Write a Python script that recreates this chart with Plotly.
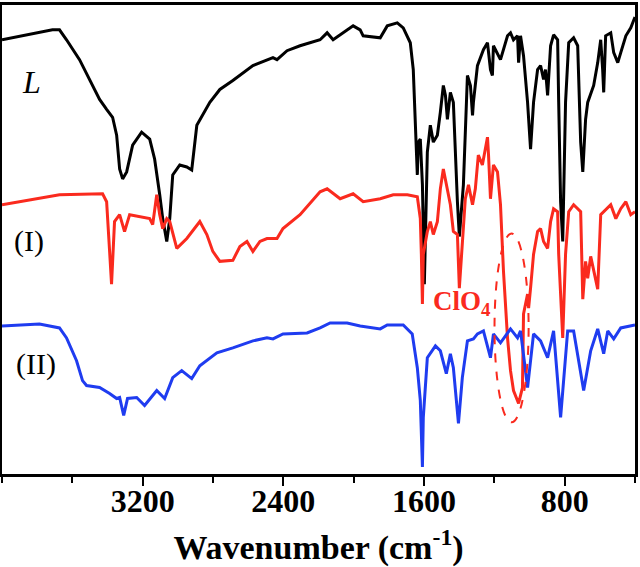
import plotly.graph_objects as go

# FT-IR spectra of the ligand L, complex (I) and complex (II)
# transmittance is in arbitrary units, curves are already offset

wn_L = [4000, 3713, 3673, 3633, 3559, 3502, 3445, 3405, 3371, 3348, 3331, 3314, 3291,
        3257, 3206, 3160, 3132, 3103, 3086, 3063, 3046, 3029, 2989, 2949, 2921, 2892,
        2858, 2818, 2761, 2687, 2573, 2459, 2436, 2379, 2305, 2191, 2151, 2117, 2003,
        1963, 1946, 1849, 1809, 1752, 1718, 1678, 1661, 1649, 1638, 1632, 1621, 1609,
        1598, 1581, 1564, 1547, 1524, 1507, 1490, 1478, 1467, 1450, 1433, 1410, 1399,
        1376, 1353, 1336, 1324, 1319, 1296, 1262, 1239, 1222, 1211, 1205, 1165, 1125,
        1108, 1091, 1068, 1062, 1051, 1034, 1011, 994, 977, 954, 937, 920, 909, 897,
        880, 863, 840, 834, 823, 811, 795, 777, 749, 726, 709, 697, 681, 669, 635, 612,
        595, 584, 578, 567, 538, 521, 498, 481, 452, 424, 400]
T_L = [437, 447, 447, 437, 417, 397, 377, 367, 359, 341, 307, 297, 304,
       331, 344, 337, 317, 281, 257, 234, 257, 301, 311, 309, 306, 351,
       361, 374, 387, 396, 411, 419, 417, 426, 431, 437, 444, 437, 451,
       447, 441, 439, 451, 454, 449, 434, 407, 341, 301, 334, 337, 291,
       191, 324, 351, 334, 341, 364, 391, 381, 357, 384, 374, 274, 239,
       291, 401, 391, 361, 374, 411, 427, 434, 407, 401, 431, 417, 441,
       444, 437, 441, 414, 441, 421, 374, 327, 374, 407, 411, 397, 407, 381,
       431, 442, 437, 374, 274, 234, 374, 434, 439, 431, 334, 304, 357, 374, 391, 414,
       437, 407, 384, 441, 444, 424, 414, 424, 441, 449, 460]

wn_I = [4000, 3673, 3428, 3405, 3388, 3377, 3360, 3331, 3303, 3274, 3160, 3143, 3120,
        3103, 3086, 3063, 3046, 3006, 2949, 2875, 2835, 2801, 2761, 2687, 2647, 2607,
        2573, 2533, 2493, 2436, 2402, 2305, 2191, 2151, 2077, 2003, 1946, 1849, 1775,
        1695, 1638, 1621, 1615, 1609, 1604, 1581, 1564, 1547, 1524, 1507, 1490, 1467,
        1450, 1433, 1410, 1399, 1382, 1365, 1347, 1324, 1308, 1291, 1268, 1251, 1239,
        1233, 1222, 1205, 1182, 1165, 1148, 1125, 1108, 1091, 1062, 1040, 1034, 1011,
        1005, 994, 977, 954, 937, 920, 897, 880, 863, 840, 834, 811, 795, 777, 749,
        709, 697, 681, 669, 652, 612, 595, 538, 509, 481, 452, 424, 400]
T_I = [271, 281, 282, 274, 224, 191, 254, 261, 244, 261, 257, 251, 281,
       261, 247, 257, 254, 227, 237, 254, 241, 224, 214, 215, 229, 234,
       224, 234, 237, 237, 247, 261, 284, 287, 277, 282, 274, 277, 281,
       281, 279, 257, 221, 171, 221, 244, 254, 241, 254, 287, 307, 287,
       271, 244, 241, 187, 237, 277, 291, 271, 287, 321, 311, 327, 339,
       321, 277, 311, 304, 271, 204, 137, 104, 84, 71, 87, 161, 181,
       167, 187, 221, 244, 247, 234, 227, 254, 267, 264, 221, 137, 221, 264, 271,
       264, 176, 214, 197, 219, 186, 261, 271, 257, 267, 274, 261, 264]

wn_II = [4000, 3787, 3673, 3633, 3576, 3542, 3519, 3445, 3388, 3348, 3331, 3308, 3286,
         3234, 3189, 3120, 3075, 3029, 2978, 2921, 2875, 2778, 2687, 2573, 2493, 2459,
         2402, 2265, 2191, 2134, 2037, 1963, 1849, 1809, 1718, 1667, 1638, 1621, 1609,
         1604, 1581, 1535, 1507, 1473, 1450, 1433, 1404, 1382, 1353, 1319, 1296, 1262,
         1222, 1205, 1165, 1108, 1068, 1051, 1011, 977, 937, 897, 863, 823, 783, 749,
         692, 652, 612, 578, 555, 521, 481, 407, 400]
T_II = [149, 151, 147, 137, 114, 94, 89, 87, 81, 76, 77, 59, 76,
        77, 69, 84, 76, 97, 104, 96, 109, 122, 127, 134, 137, 136,
        141, 142, 147, 152, 152, 149, 146, 150, 150, 141, 107, 74, 7,
        57, 117, 129, 124, 101, 121, 107, 51, 97, 134, 136, 141, 144,
        117, 141, 132, 146, 137, 144, 87, 141, 134, 117, 144, 57, 144, 144,
        84, 124, 146, 121, 144, 136, 147, 150, 150]

serif = "Liberation Serif"

fig = go.Figure(
    data=[
        go.Scatter(x=wn_L, y=T_L, mode="lines", name="L",
                   line=dict(color="#000000", width=3)),
        go.Scatter(x=wn_I, y=T_I, mode="lines", name="(I)",
                   line=dict(color="#fa2a1e", width=3)),
        go.Scatter(x=wn_II, y=T_II, mode="lines", name="(II)",
                   line=dict(color="#1f3cf0", width=3)),
    ]
)

# dashed ring round the perchlorate band
fig.add_shape(type="circle", xref="x", yref="y", x0=1199, x1=1005, y0=52, y1=242,
              line=dict(color="#fa2a1e", width=2, dash="dash"))

fig.add_annotation(x=3830, y=395, text="<i>L</i>", showarrow=False,
                   font=dict(family=serif, size=32, color="black"))
fig.add_annotation(x=3845, y=234, text="(I)", showarrow=False,
                   font=dict(family=serif, size=30, color="black"))
fig.add_annotation(x=3805, y=111, text="(II)", showarrow=False,
                   font=dict(family=serif, size=30, color="black"))
fig.add_annotation(x=1385, y=172, text="<b>ClO<sub>4</sub></b>", showarrow=False,
                   font=dict(family=serif, size=27, color="#fa2a1e"))

fig.update_layout(
    plot_bgcolor="white",
    paper_bgcolor="white",
    width=640,
    height=567,
    margin=dict(l=2, r=4, t=2, b=93),
    showlegend=False,
)

fig.update_xaxes(
    range=[4000, 400],
    tickvals=[3200, 2400, 1600, 800],
    ticktext=["3200", "2400", "1600", "800"],
    ticks="outside",
    ticklen=9,
    tickwidth=2,
    tickcolor="black",
    ticklabelstandoff=-12,
    tickfont=dict(family=serif, size=32, color="black", weight="bold"),
    minor=dict(tickmode="linear", tick0=0, dtick=400, ticks="outside",
               ticklen=6, tickwidth=2, tickcolor="black"),
    showgrid=False,
    zeroline=False,
    showline=True,
    linecolor="black",
    linewidth=2.5,
    mirror=True,
    title=dict(text="Wavenumber (cm<sup>-1</sup>)", standoff=20,
               font=dict(family=serif, size=34, color="black", weight="bold")),
)
fig.update_yaxes(
    range=[0, 472],
    showticklabels=False,
    ticks="",
    showgrid=False,
    zeroline=False,
    showline=True,
    linecolor="black",
    linewidth=2.5,
    mirror=True,
)

# page has a default 8px body margin, drop it so the figure sits at the corner
fig.write_html("out.html", config={"displayModeBar": False},
               post_script="document.body.style.margin='0';")
